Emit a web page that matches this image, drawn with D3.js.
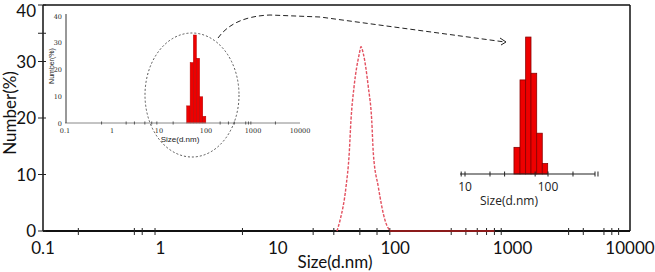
<!DOCTYPE html>
<html><head><meta charset="utf-8">
<script src="https://cdn.jsdelivr.net/npm/d3@7"></script>
<style>body{margin:0;background:#fff}svg{display:block}</style>
</head><body>
<svg id="c" width="655" height="272"></svg>
<script>
// ---- data ----
const curveSizes  = [31.9, 33.9, 38.1, 40.6, 42.0, 44.6, 49.5, 51.1, 53.5, 59.0, 63.1, 65.1, 71.8, 81.9, 90.3];
const curveValues = [0, 1.9, 7.8, 13.8, 19.6, 25.5, 31.4, 32.6, 31.4, 25.5, 19.6, 13.8, 7.8, 1.9, 0];
const baseSizes   = [90, 700];
const baseValues  = [0, 0];
const binEdges    = [38.9, 46.0, 53.8, 62.4, 73.1, 85.3, 99.1];
const binValues   = [6.4, 22.6, 32.9, 24.2, 9.8, 2.5];
const xTickLabels = [0.1, 1, 10, 100, 1000, 10000];
const xMinorTicks = [0.2, 0.6, 0.7, 0.9, 5, 20, 30, 50, 70, 90, 300, 400, 500, 600, 700, 800, 3000, 4000, 6000, 7000, 8000];
const yTickLabels = [0, 10, 20, 30, 40];
const yTickMarks  = [0, 10, 20, 30, 35, 40];
const in1Labels   = [0.1, 1, 10, 100, 1000, 10000];
const in1Ticks    = [0.6, 2, 3, 5, 7, 9, 20, 200, 300, 400, 700, 800, 900, 3000];
const in1YLabels  = [0, 10, 20, 30, 40];
const in2Labels   = [10, 100];
const in2Ticks    = [9, 10, 20, 30, 70, 100, 200, 400];

const svg = d3.select("#c");
const F = "Lato, 'Open Sans', sans-serif";

// ---- main chart ----
const x = d3.scaleLog().domain([0.1, 10000]).range([43, 630]);
const y = d3.scaleLinear().domain([0, 40]).range([231, 5]);

// frame
svg.append("line").attr("x1",43).attr("x2",630).attr("y1",y(40)).attr("y2",y(40)).attr("stroke","#111").attr("stroke-width",1.5);
svg.append("line").attr("x1",630).attr("x2",630).attr("y1",y(40)).attr("y2",y(0)).attr("stroke","#111").attr("stroke-width",1.5);
svg.append("line").attr("x1",43).attr("x2",43).attr("y1",y(40)).attr("y2",y(0)).attr("stroke","#111").attr("stroke-width",1.5);
svg.append("line").attr("x1",43).attr("x2",630).attr("y1",y(0)).attr("y2",y(0)).attr("stroke","#111").attr("stroke-width",2);

// x ticks (crossing)
svg.append("g").selectAll("line").data(xMinorTicks).join("line")
  .attr("x1",d=>x(d)).attr("x2",d=>x(d)).attr("y1",y(0)-3).attr("y2",y(0)+4)
  .attr("stroke","#222").attr("stroke-width",1);
svg.append("g").selectAll("text").data(xTickLabels).join("text")
  .attr("x",d=>x(d)).attr("y",254).attr("text-anchor","middle")
  .attr("font-family",F).attr("font-size",17).attr("fill","#111")
  .text(d=>d3.format("")(d));
// y ticks
svg.append("g").selectAll("line").data(yTickMarks).join("line")
  .attr("x1",38).attr("x2",46).attr("y1",d=>y(d)).attr("y2",d=>y(d))
  .attr("stroke","#222").attr("stroke-width",1);
svg.append("g").selectAll("text").data(yTickLabels).join("text")
  .attr("x",36).attr("y",d=>Math.max(y(d)+6, 17)).attr("text-anchor","end")
  .attr("font-family",F).attr("font-size",17).attr("fill","#111")
  .text(d=>d);
svg.append("text").attr("transform","translate(16,113) rotate(-90)")
  .attr("text-anchor","middle").attr("font-family",F).attr("font-size",17).attr("fill","#111")
  .text("Number(%)");
svg.append("text").attr("x",335).attr("y",268).attr("text-anchor","middle")
  .attr("font-family",F).attr("font-size",17).attr("fill","#111").text("Size(d.nm)");

// data lines
const line = d3.line().x(d=>x(d[0])).y(d=>y(d[1])).curve(d3.curveMonotoneX);
svg.append("path").datum(baseSizes.map((s,i)=>[s,baseValues[i]]))
  .attr("d",d3.line().x(d=>x(d[0])).y(d=>y(d[1])))
  .attr("stroke","#8b1a1a").attr("stroke-width",2).attr("fill","none");
svg.append("path").datum(curveSizes.map((s,i)=>[s,curveValues[i]]))
  .attr("d",line).attr("stroke","#e3505f").attr("stroke-width",1.4)
  .attr("stroke-dasharray","3,1.5").attr("fill","none");

// ---- inset 1 (full range) ----
const x1 = d3.scaleLog().domain([0.1, 10000]).range([65, 300]);
const y1 = d3.scaleLinear().domain([0, 40]).range([123, 16]);
svg.append("g").selectAll("rect").data(binValues).join("rect")
  .attr("x",(d,i)=>x1(binEdges[i])).attr("width",(d,i)=>x1(binEdges[i+1])-x1(binEdges[i]))
  .attr("y",d=>y1(d)).attr("height",d=>y1(0)-y1(d))
  .attr("fill","#ee0000").attr("stroke","#b00000").attr("stroke-width",0.5);
svg.append("line").attr("x1",65).attr("x2",300).attr("y1",y1(0)).attr("y2",y1(0)).attr("stroke","#888").attr("stroke-width",1);
svg.append("line").attr("x1",66).attr("x2",66).attr("y1",14).attr("y2",y1(0)).attr("stroke","#333").attr("stroke-width",1);
svg.append("g").selectAll("line").data(in1Ticks).join("line")
  .attr("x1",d=>x1(d)).attr("x2",d=>x1(d)).attr("y1",y1(0)-1.5).attr("y2",y1(0)+1.5)
  .attr("stroke","#555").attr("stroke-width",1);
svg.append("g").selectAll("text").data(in1Labels).join("text")
  .attr("x",d=>x1(d)).attr("y",133).attr("text-anchor","middle")
  .attr("font-family","'DejaVu Serif', serif").attr("font-size",6.5).attr("fill","#222")
  .text(d=>d);
svg.append("g").selectAll("text").data(in1YLabels).join("text")
  .attr("x",62).attr("y",d=>y1(d)+2.5).attr("text-anchor","end")
  .attr("font-family","'DejaVu Serif', serif").attr("font-size",6.5).attr("fill","#222")
  .text(d=>d);
svg.append("text").attr("transform","translate(54,66) rotate(-90)")
  .attr("text-anchor","middle").attr("font-family","'Liberation Sans', sans-serif").attr("font-size",7).attr("fill","#222")
  .text("Number(%)");
svg.append("text").attr("x",180).attr("y",142).attr("text-anchor","middle")
  .attr("font-family","'Liberation Sans', sans-serif").attr("font-size",8).attr("fill","#222").text("Size(d.nm)");

// ellipse + arrow
svg.append("ellipse").attr("cx",192).attr("cy",95).attr("rx",47).attr("ry",62)
  .attr("fill","none").attr("stroke","#444").attr("stroke-width",0.9).attr("stroke-dasharray","2,2");
svg.append("path").attr("d","M218,38 C228,24 245,16 270,15 L320,17 L505,42")
  .attr("fill","none").attr("stroke","#222").attr("stroke-width",1).attr("stroke-dasharray","5,3");
svg.append("path").attr("d","M500,38 L506,42 L501,45")
  .attr("fill","none").attr("stroke","#222").attr("stroke-width",1);

// ---- inset 2 (zoomed) ----
const x2 = d3.scaleLog().domain([10, 100]).range([465, 548]);
const y2 = d3.scaleLinear().domain([0, 40]).range([174, 7.5]);
svg.append("g").selectAll("rect").data(binValues).join("rect")
  .attr("x",(d,i)=>x2(binEdges[i])).attr("width",(d,i)=>x2(binEdges[i+1])-x2(binEdges[i]))
  .attr("y",d=>y2(d)).attr("height",d=>y2(0)-y2(d))
  .attr("fill","#ee0000").attr("stroke","#8a0000").attr("stroke-width",0.8);
svg.append("line").attr("x1",460).attr("x2",595).attr("y1",y2(0)).attr("y2",y2(0)).attr("stroke","#222").attr("stroke-width",1.2);
svg.append("g").selectAll("line").data(in2Ticks).join("line")
  .attr("x1",d=>x2(d)).attr("x2",d=>x2(d)).attr("y1",y2(0)-2.5).attr("y2",y2(0)+2.5)
  .attr("stroke","#222").attr("stroke-width",1);
svg.append("line").attr("x1",595).attr("x2",595).attr("y1",y2(0)-2.5).attr("y2",y2(0)+2.5).attr("stroke","#222");
svg.append("g").selectAll("text").data(in2Labels).join("text")
  .attr("x",d=>x2(d)).attr("y",191).attr("text-anchor","middle")
  .attr("font-family","'Open Sans', sans-serif").attr("font-size",12).attr("fill","#222")
  .text(d=>d);
svg.append("text").attr("x",509).attr("y",205).attr("text-anchor","middle")
  .attr("font-family","'Open Sans', sans-serif").attr("font-size",12).attr("fill","#222").text("Size(d.nm)");
</script>
</body></html>
